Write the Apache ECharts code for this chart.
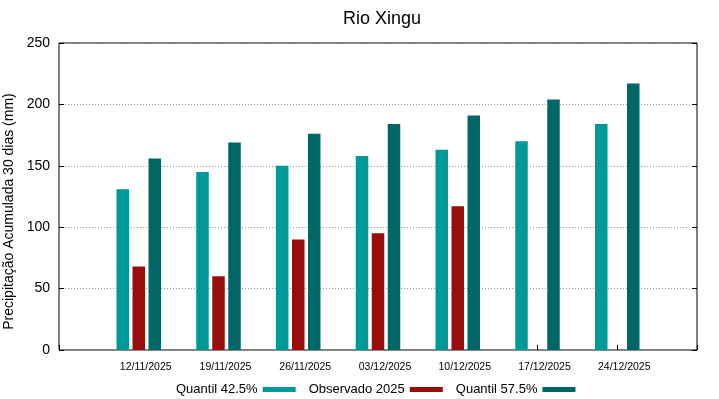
<!DOCTYPE html>
<html>
<head>
<meta charset="utf-8">
<script src="https://cdn.jsdelivr.net/npm/echarts@6/dist/echarts.min.js"></script>
<style>
  html, body { margin: 0; padding: 0; background: #fff; }
  #bar { width: 719px; height: 399px; }
</style>
</head>
<body>
<div id="bar"></div>
<script>
// 数据
var datas = ['12/11/2025', '19/11/2025', '26/11/2025', '03/12/2025', '10/12/2025', '17/12/2025', '24/12/2025'];
var q425 = [131, 145, 150, 158, 163, 170, 184];
var obs2025 = [68, 60, 90, 95, 117, '-', '-'];
var q575 = [156, 169, 176, 184, 191, 204, 217];
var yTicks = [0, 50, 100, 150, 200, 250];

function toPairs (arr) {
  return arr.map(function (v, i) { return [i + 1, v]; });
}

function workNum () {
  // 1. 实例化对象
  const myChart = echarts.init(document.getElementById('bar'));
  const font = 'Liberation Sans';
  // 2.指定配置
  const option = {
    animation: false,
    textStyle: { fontFamily: font },
    title: {
      text: 'Rio Xingu',
      left: 377,
      top: 5,
      textAlign: 'center',
      textStyle: { fontFamily: font, fontSize: 18, fontWeight: 'normal', color: '#000' }
    },
    legend: {
      left: 171,
      top: 378,
      align: 'right',
      icon: 'rect',
      itemWidth: 33,
      itemHeight: 5,
      itemGap: 13,
      textStyle: { fontFamily: font, fontSize: 13, color: '#000' },
      data: ['Quantil 42.5%', 'Observado 2025', 'Quantil 57.5%']
    },
    grid: {
      left: 59,
      right: 22,
      top: 43,
      bottom: 49,
      show: true,
      borderColor: '#000',
      borderWidth: 1,
      containLabel: false,
      outerBoundsMode: 'none'
    },
    xAxis: {
      type: 'value',
      min: 0,
      max: 8,
      interval: 1,
      axisLine: { show: false },
      axisTick: { show: true, inside: true, length: 5, lineStyle: { color: '#000' } },
      splitLine: { show: false },
      axisLabel: {
        fontFamily: font,
        fontSize: 10.5,
        color: '#000',
        margin: 12,
        padding: [0, 0, 0, 14],
        formatter: function (v) { return datas[v - 1] || ''; }
      }
    },
    yAxis: [
      {
        type: 'value',
        min: 0,
        max: yTicks[yTicks.length - 1],
        interval: 50,
        name: 'Precipitação Acumulada 30 dias (mm)',
        nameLocation: 'middle',
        nameGap: 34,
        nameTextStyle: { fontFamily: font, fontSize: 14, color: '#000', padding: [0, 30, 0, 0] },
        axisLine: { show: false },
        axisTick: { show: true, inside: true, length: 5, lineStyle: { color: '#000' } },
        axisLabel: { fontFamily: font, fontSize: 14, color: '#000', margin: 9 },
        splitLine: { show: true, lineStyle: { color: '#999', type: [1, 2], width: 1 } }
      },
      {
        type: 'value',
        position: 'right',
        min: 0,
        max: yTicks[yTicks.length - 1],
        interval: 50,
        axisLine: { show: false },
        axisTick: { show: true, inside: true, length: 5, lineStyle: { color: '#000' } },
        axisLabel: { show: false },
        splitLine: { show: false }
      }
    ],
    series: [
      {
        name: 'Quantil 42.5%',
        type: 'bar',
        barWidth: 12.5,
        barGap: '28%',
        itemStyle: { color: '#009999' },
        data: toPairs(q425)
      },
      {
        name: 'Observado 2025',
        type: 'bar',
        barWidth: 12.5,
        barGap: '28%',
        itemStyle: { color: '#990d0d' },
        data: toPairs(obs2025)
      },
      {
        name: 'Quantil 57.5%',
        type: 'bar',
        barWidth: 12.5,
        barGap: '28%',
        itemStyle: { color: '#006666' },
        data: toPairs(q575)
      }
    ]
  };
  // 3. 把配置给实例对象
  myChart.setOption(option);
}
workNum();
</script>
</body>
</html>
